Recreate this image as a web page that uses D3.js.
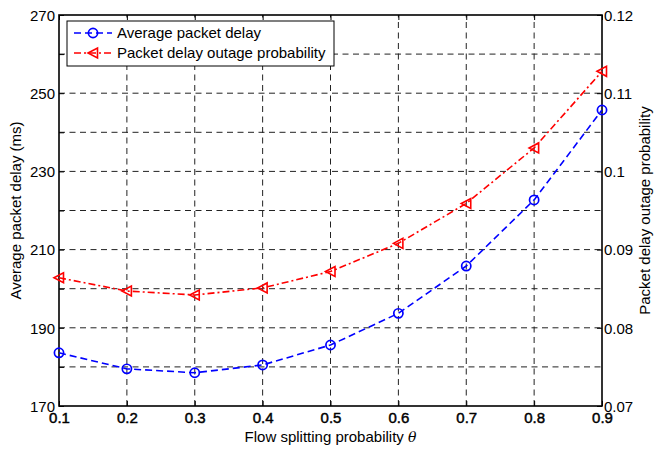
<!DOCTYPE html>
<html><head><meta charset="utf-8">
<script src="https://cdn.jsdelivr.net/npm/d3@7"></script>
<style>
body{margin:0;background:#fff;}
svg text{font-family:"Liberation Sans",Arial,Helvetica,sans-serif;}
</style></head>
<body><svg id="chart" width="654" height="449"></svg>
<script>
const xValues = [0.1,0.2,0.3,0.4,0.5,0.6,0.7,0.8,0.9];
const avgDelay = [183.6,179.5,178.5,180.5,185.6,193.7,205.8,222.7,245.7];
const outageProb = [0.0864,0.0847,0.0842,0.0851,0.0872,0.0908,0.0959,0.1030,0.1128];
const leftTicks = [170,180,190,200,210,220,230,240,250,260,270];
const leftTickLabels = [170,190,210,230,250,270];
const rightTicks = [0.07,0.08,0.09,0.10,0.11,0.12];
const rightTickLabels = ["0.07","0.08","0.09","0.1","0.11","0.12"];
const seriesNames = ["Average packet delay","Packet delay outage probability"];
const xLabel = "Flow splitting probability ";
const yLeftLabel = "Average packet delay (ms)";
const yRightLabel = "Packet delay outage probability";

const svg = d3.select("#chart");
const L=59, R=602, T=15, B=406;
const x = d3.scaleLinear().domain([0.1,0.9]).range([L,R]);
const yL = d3.scaleLinear().domain([170,270]).range([B,T]);
const yR = d3.scaleLinear().domain([0.07,0.12]).range([B,T]);
const FS = 15;

// grid
const grid = svg.append("g").attr("stroke","#222").attr("stroke-width",1).attr("stroke-dasharray","6,4.5");
xValues.slice(1,-1).forEach(v=>{
  grid.append("line").attr("x1",x(v)).attr("x2",x(v)).attr("y1",B).attr("y2",T);
});
leftTicks.slice(1,-1).forEach(v=>{
  grid.append("line").attr("x1",L).attr("x2",R).attr("y1",yL(v)).attr("y2",yL(v));
});

// axes with inward ticks
const axL = d3.axisLeft(yL).tickValues(leftTicks).tickSizeInner(-5).tickSizeOuter(0)
  .tickFormat(d=>leftTickLabels.includes(d)?String(d):"").tickPadding(4);
const gL = svg.append("g").attr("transform",`translate(${L},0)`).call(axL);
const axR = d3.axisRight(yR).tickValues(rightTicks).tickSizeInner(-5).tickSizeOuter(0)
  .tickFormat((d,i)=>rightTickLabels[i]).tickPadding(2);
const gR = svg.append("g").attr("transform",`translate(${R},0)`).call(axR);
const axB = d3.axisBottom(x).tickValues(xValues).tickSizeInner(-5).tickSizeOuter(0)
  .tickFormat(d3.format(".1f")).tickPadding(4);
const gB = svg.append("g").attr("transform",`translate(0,${B})`).call(axB);
const axT = d3.axisTop(x).tickValues(xValues).tickSizeInner(-5).tickSizeOuter(0).tickFormat("");
const gT = svg.append("g").attr("transform",`translate(0,${T})`).call(axT);
[gL,gR,gB,gT].forEach(g=>{
  g.select(".domain").remove();
  g.selectAll(".tick line").attr("stroke","#000").attr("stroke-width",1);
  g.selectAll("text").attr("fill","#000").attr("font-size",FS).attr("font-family","Liberation Sans, Arial, sans-serif");
});
gB.selectAll("text").attr("stroke","#000").attr("stroke-width",0.45).attr("dy","0.85em");
gL.selectAll("text").attr("dy","0.35em");
gR.selectAll("text").attr("dy","0.35em");

// box
svg.append("rect").attr("x",L).attr("y",T).attr("width",R-L).attr("height",B-T)
  .attr("fill","none").attr("stroke","#000").attr("stroke-width",1.6);

// series
const lineL = d3.line().x((d,i)=>x(xValues[i])).y(d=>yL(d));
const lineR = d3.line().x((d,i)=>x(xValues[i])).y(d=>yR(d));
svg.append("path").datum(outageProb).attr("d",lineR).attr("fill","none")
  .attr("stroke","#ff0000").attr("stroke-width",1.6).attr("stroke-dasharray","7,3,2,3");
svg.append("path").datum(avgDelay).attr("d",lineL).attr("fill","none")
  .attr("stroke","#0000ff").attr("stroke-width",1.6).attr("stroke-dasharray","7,4");

const tri = (cx,cy)=>`M${cx-5},${cy} L${cx+4.5},${cy-5} L${cx+4.5},${cy+5} Z`;
svg.append("g").selectAll("path").data(outageProb).join("path")
  .attr("d",(d,i)=>tri(x(xValues[i]),yR(d)))
  .attr("fill","none").attr("stroke","#ff0000").attr("stroke-width",1.6);
svg.append("g").selectAll("circle").data(avgDelay).join("circle")
  .attr("cx",(d,i)=>x(xValues[i])).attr("cy",d=>yL(d)).attr("r",4.6)
  .attr("fill","none").attr("stroke","#0000ff").attr("stroke-width",1.7);

// legend
const lg = svg.append("g");
lg.append("rect").attr("x",67).attr("y",21).attr("width",267).attr("height",45)
  .attr("fill","#fff").attr("stroke","#000").attr("stroke-width",1);
const rows=[{y:33,c:"#0000ff",dash:"7,4",m:"c"},{y:53,c:"#ff0000",dash:"7,3,2,3",m:"t"}];
rows.forEach((r,i)=>{
  lg.append("line").attr("x1",74).attr("x2",112).attr("y1",r.y).attr("y2",r.y)
    .attr("stroke",r.c).attr("stroke-width",1.6).attr("stroke-dasharray",r.dash);
  if(r.m==="c") lg.append("circle").attr("cx",93).attr("cy",r.y).attr("r",4.6)
    .attr("fill","none").attr("stroke",r.c).attr("stroke-width",1.7);
  else lg.append("path").attr("d",tri(93,r.y)).attr("fill","none").attr("stroke",r.c).attr("stroke-width",1.6);
  lg.append("text").attr("x",117).attr("y",r.y).attr("dy","0.35em").attr("font-size",FS)
    .attr("fill","#000").text(seriesNames[i]);
});

// axis labels
const xl = svg.append("text").attr("x",(L+R)/2).attr("y",442).attr("text-anchor","middle")
  .attr("font-size",FS).attr("fill","#000");
xl.append("tspan").text(xLabel);
xl.append("tspan").attr("font-style","italic").attr("font-family","DejaVu Serif, serif").attr("font-size",14).text("θ");
svg.append("text").attr("transform",`translate(21,${(T+B)/2}) rotate(-90)`)
  .attr("text-anchor","middle").attr("font-size",FS).attr("fill","#000").text(yLeftLabel);
svg.append("text").attr("transform",`translate(650,${(T+B)/2}) rotate(-90)`)
  .attr("text-anchor","middle").attr("font-size",FS).attr("fill","#000").text(yRightLabel);
</script></body></html>
